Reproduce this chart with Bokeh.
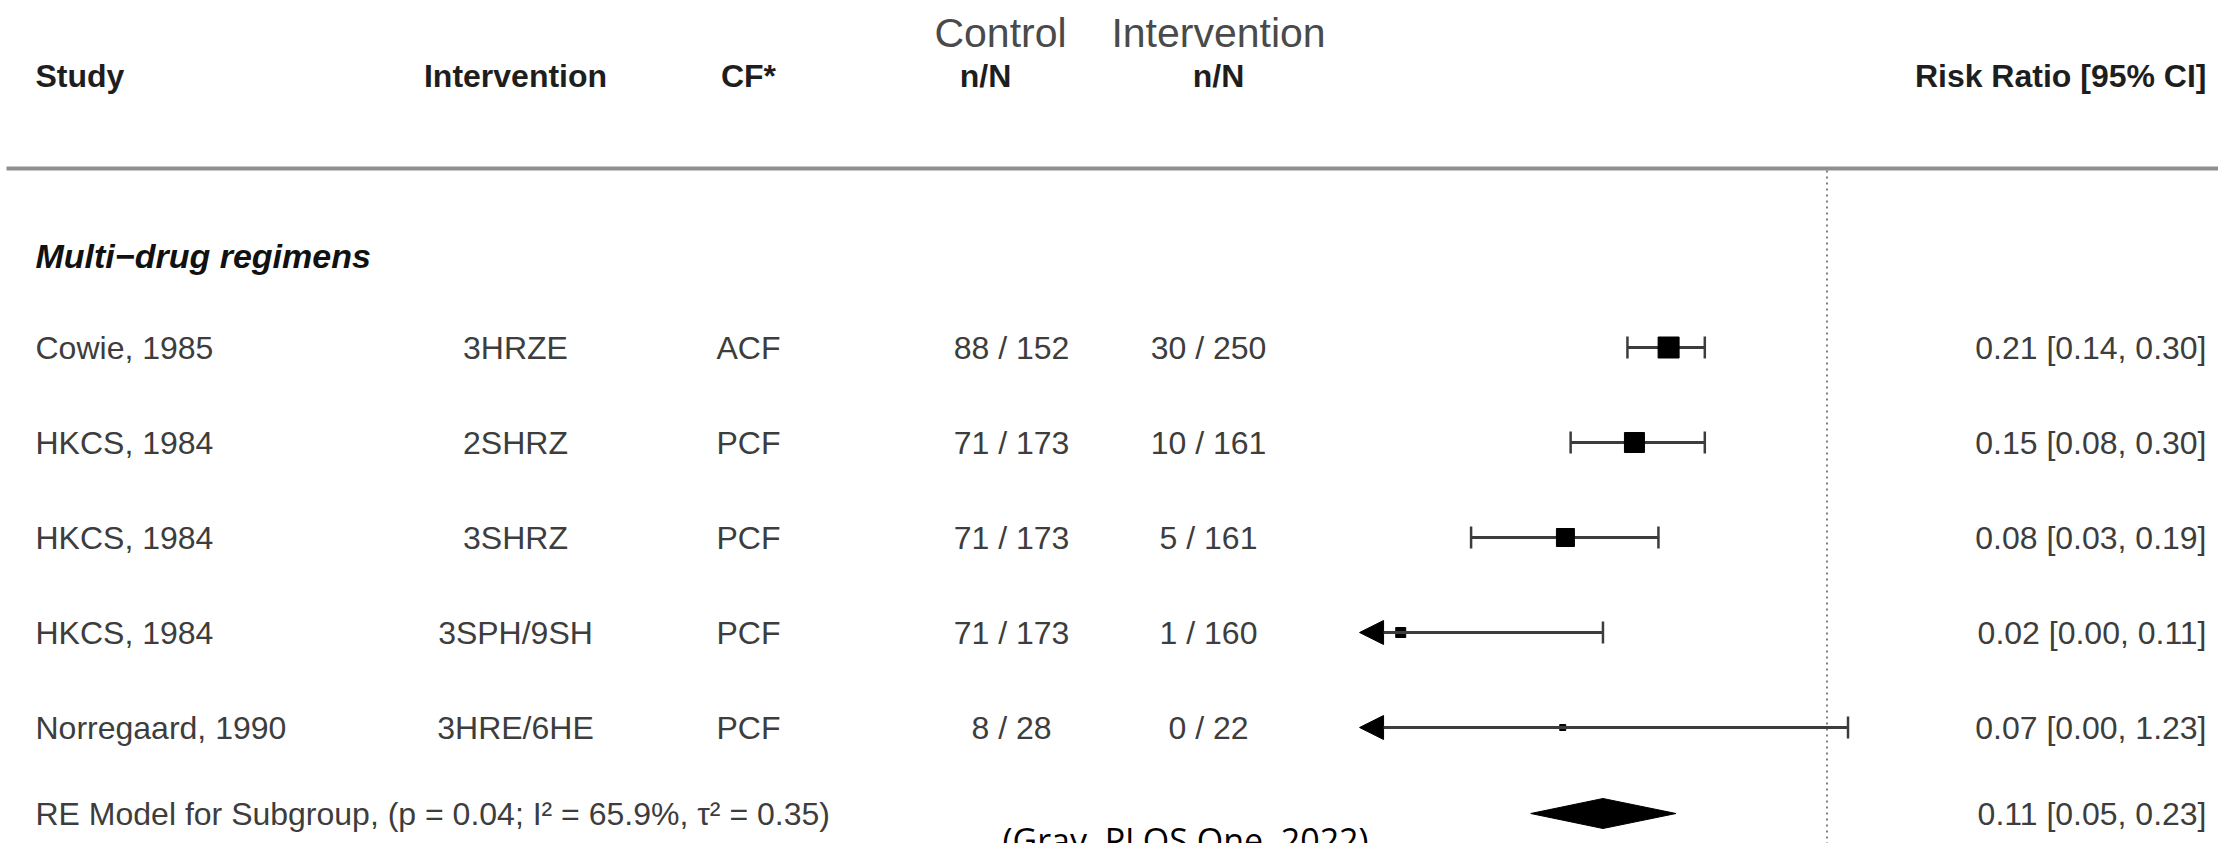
import math
from bokeh.plotting import figure
from bokeh.models import Range1d, LogScale, Arrow, NormalHead
from bokeh.core.properties import value
from bokeh.embed import file_html
from bokeh.resources import INLINE

# ---------------- data ----------------
studies = ["Cowie, 1985", "HKCS, 1984", "HKCS, 1984", "HKCS, 1984", "Norregaard, 1990"]
interventions = ["3HRZE", "2SHRZ", "3SHRZ", "3SPH/9SH", "3HRE/6HE"]
case_finding = ["ACF", "PCF", "PCF", "PCF", "PCF"]
control_nN = ["88 / 152", "71 / 173", "71 / 173", "71 / 173", "8 / 28"]
interv_nN = ["30 / 250", "10 / 161", "5 / 161", "1 / 160", "0 / 22"]
rr_est = [0.21, 0.15, 0.076, 0.015, 0.074]
rr_low = [0.14, 0.08, 0.03, 0.002, 0.004]
rr_high = [0.30, 0.30, 0.19, 0.11, 1.23]
rr_labels = ["0.21 [0.14, 0.30]", "0.15 [0.08, 0.30]", "0.08 [0.03, 0.19]",
             "0.02 [0.00, 0.11]", "0.07 [0.00, 1.23]"]
pooled_est, pooled_low, pooled_high = 0.11, 0.054, 0.226
pooled_label = "0.11 [0.05, 0.23]"
subgroup_title = "Multi\u2212drug regimens"
model_text = "RE Model for Subgroup, (p = 0.04; I\u00b2 = 65.9%, \u03c4\u00b2 = 0.35)"
col_headers = ["Study", "Intervention", "CF*", "n/N", "n/N", "Risk Ratio [95% CI]"]
group_headers = ["Control", "Intervention"]
caption = "(Gray, PLOS One, 2022)"
axis_limit = 0.01   # lower plotting limit of the risk-ratio axis

# ---------------- styles / layout ----------------
W, H = 2218, 843
ROW0, ROW_H = 347, 95
RR_ONE_X, PX_PER_LN = 1826.5, 101.5
FONT = value("Liberation Sans")
marker_sizes = [21, 20, 18, 10, 6]
HEAD_Y, RULE_Y, SUB_Y, MODEL_Y = 75, 168, 255, 813
X_STUDY, X_INT, X_CF, X_CTRL, X_TRT, X_RR = 35, 515, 748, 1011, 1208, 2206

p = figure(width=W, height=H, output_backend="svg", toolbar_location=None,
           x_range=Range1d(0, W), y_range=Range1d(H, 0),
           x_axis_location=None, y_axis_location=None, min_border=0)
p.outline_line_color = None
p.grid.visible = False
p.background_fill_color = "white"

ln_start = -RR_ONE_X / PX_PER_LN
ln_end = (W - RR_ONE_X) / PX_PER_LN
p.extra_x_ranges = {"rr": Range1d(math.exp(ln_start), math.exp(ln_end))}
p.extra_x_scales = {"rr": LogScale()}

row_y = [ROW0 + i * ROW_H for i in range(len(studies))]

# header rule
p.segment(x0=[6], y0=[RULE_Y], x1=[W], y1=[RULE_Y], line_color="#8f8f8f", line_width=4)
# reference line at RR = 1
p.segment(x0=[1], y0=[RULE_Y + 2], x1=[1], y1=[H], x_range_name="rr",
          line_color="#808080", line_width=2, line_dash="2 4")

# headers
hdr = dict(text_font=FONT, text_font_size="32px", text_font_style="bold",
           text_color="#1e1e1e", text_baseline="middle")
p.text(x=[X_STUDY], y=[HEAD_Y], text=[col_headers[0]], text_align="left", **hdr)
p.text(x=[X_INT, X_CF, 985, 1218], y=[HEAD_Y] * 4, text=col_headers[1:5],
       text_align="center", **hdr)
p.text(x=[X_RR], y=[HEAD_Y], text=[col_headers[5]], text_align="right", **hdr)
p.text(x=[1000, 1218], y=[32, 32], text=group_headers, text_font=FONT, text_font_size="41px",
       text_color="#4a4a4a", text_align="center", text_baseline="middle")

# subgroup title
p.text(x=[X_STUDY], y=[SUB_Y], text=[subgroup_title], text_font=FONT, text_font_size="34px",
       text_font_style="bold italic", text_color="#111111", text_align="left",
       text_baseline="middle")

# table columns
row_txt = dict(text_font=FONT, text_font_size="32px", text_color="#3d3d3d", text_baseline="middle")
p.text(x=[X_STUDY] * 5, y=row_y, text=studies, text_align="left", **row_txt)
p.text(x=[X_INT] * 5, y=row_y, text=interventions, text_align="center", **row_txt)
p.text(x=[X_CF] * 5, y=row_y, text=case_finding, text_align="center", **row_txt)
p.text(x=[X_CTRL] * 5, y=row_y, text=control_nN, text_align="center", **row_txt)
p.text(x=[X_TRT] * 5, y=row_y, text=interv_nN, text_align="center", **row_txt)
p.text(x=[X_RR] * 5, y=row_y, text=rr_labels, text_align="right", **row_txt)
p.text(x=[X_STUDY], y=[MODEL_Y], text=[model_text], text_align="left", **row_txt)
p.text(x=[X_RR], y=[MODEL_Y], text=[pooled_label], text_align="right", **row_txt)

# confidence intervals
ci_col = "#3c3c3c"
full_idx = [i for i in range(5) if rr_low[i] >= axis_limit]
clip_idx = [i for i in range(5) if rr_low[i] < axis_limit]
p.segment(x0=[rr_low[i] for i in full_idx], y0=[row_y[i] for i in full_idx],
          x1=[rr_high[i] for i in full_idx], y1=[row_y[i] for i in full_idx],
          x_range_name="rr", line_color=ci_col, line_width=3)
for i in clip_idx:
    p.add_layout(Arrow(end=NormalHead(size=24, fill_color="black", line_color="black"),
                       x_start=rr_high[i], y_start=row_y[i], x_end=axis_limit, y_end=row_y[i],
                       x_range_name="rr", line_color=ci_col, line_width=3))
cap_x = [rr_low[i] for i in full_idx] + rr_high
cap_y = [row_y[i] for i in full_idx] + row_y
p.scatter(x=cap_x, y=cap_y, marker="dash", angle=math.pi / 2, size=22,
          line_color=ci_col, line_width=2.5, x_range_name="rr")
p.scatter(x=rr_est, y=row_y, marker="square", size=marker_sizes,
          fill_color="black", line_color="black", x_range_name="rr")

# pooled diamond
half_h = 15
p.patch(x=[pooled_low, pooled_est, pooled_high, pooled_est],
        y=[MODEL_Y, MODEL_Y - half_h, MODEL_Y, MODEL_Y + half_h],
        fill_color="black", line_color="black", x_range_name="rr")

# caption (cut off by the bottom edge, as in the source)
p.text(x=[1185], y=[816], text=[caption], text_font=value("Open Sans"), text_font_size="34px",
       text_color="black", text_align="center", text_baseline="top")

open("out.html", "w").write(file_html(p, INLINE))
